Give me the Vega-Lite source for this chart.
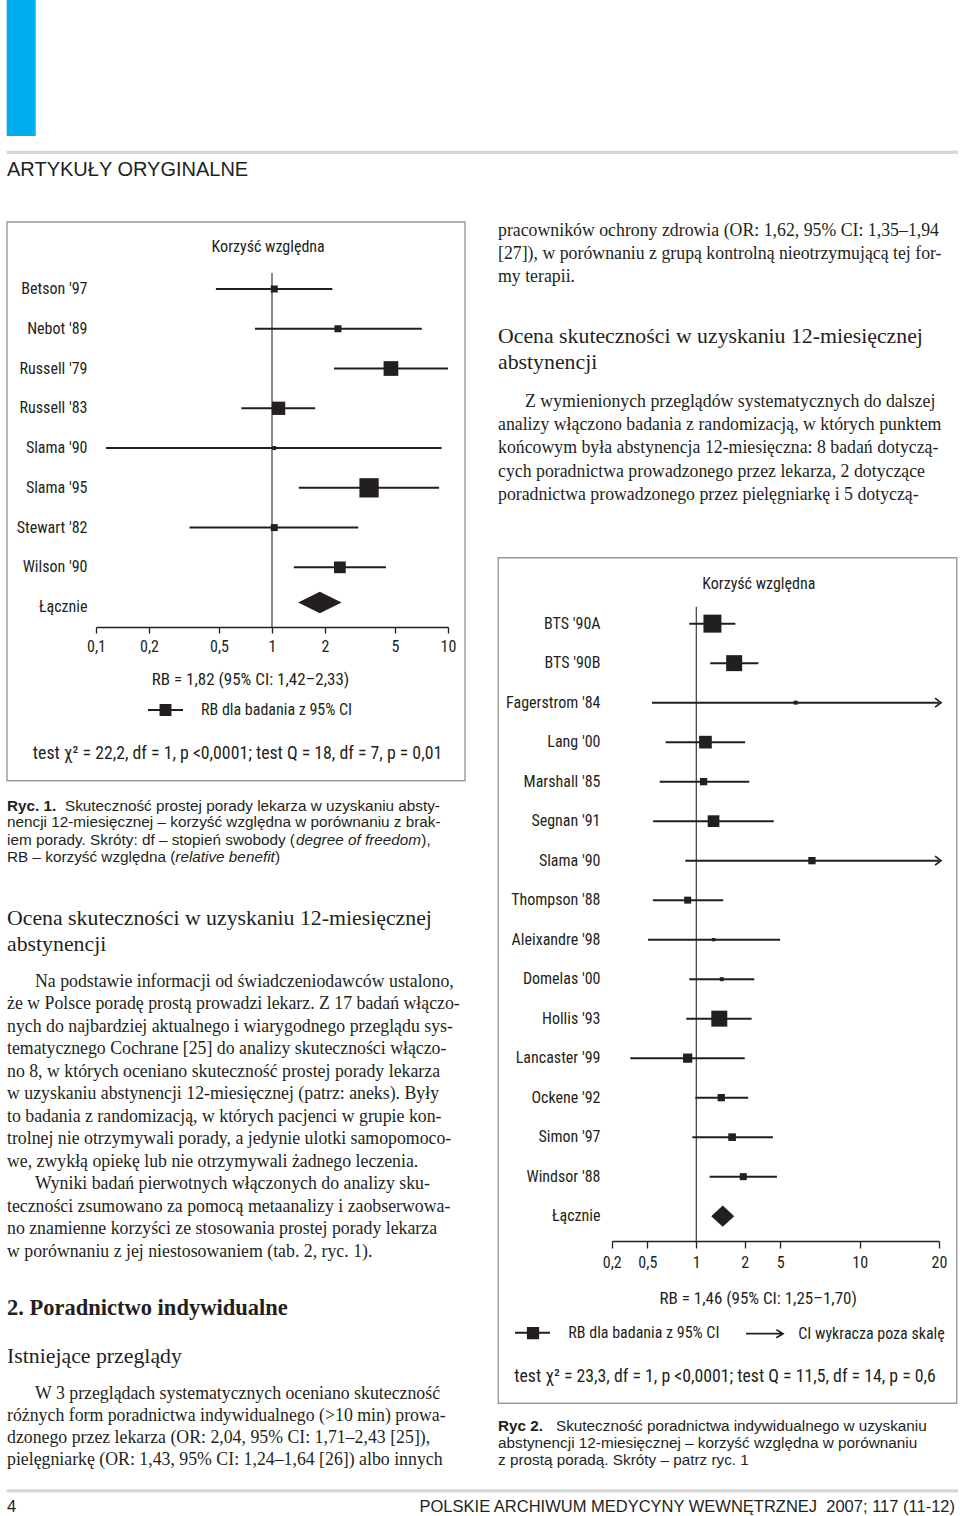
{
  "$schema": "https://vega.github.io/schema/vega-lite/v6.json",
  "width": 960,
  "height": 1516,
  "padding": 0,
  "autosize": {"type": "none"},
  "background": "#ffffff",
  "config": {
    "view": {"stroke": null},
    "legend": {"padding": 0},
    "axis": {
      "grid": false, "labelFlush": false, "labelOverlap": false, "labelLimit": 300,
      "labelFont": "Roboto Condensed, Liberation Sans Narrow, DejaVu Sans Condensed, sans-serif", "labelFontSize": 16, "labelColor": "#231f20",
      "titleFont": "Roboto Condensed, Liberation Sans Narrow, DejaVu Sans Condensed, sans-serif", "titleFontSize": 16, "titleFontWeight": "normal", "titleColor": "#231f20",
      "titleAlign": "center", "titleBaseline": "middle",
      "domainColor": "#231f20", "domainWidth": 1.3, "tickColor": "#231f20", "tickWidth": 1.3
    }
  },
  "datasets": {
    "fig1": [
      {"study": "Betson '97", "rb": 1.03, "lo": 0.48, "hi": 2.2, "w": 4.6},
      {"study": "Nebot '89", "rb": 2.37, "lo": 0.8, "hi": 7.1, "w": 4.6},
      {"study": "Russell '79", "rb": 4.74, "lo": 2.25, "hi": 10, "w": 20.3},
      {"study": "Russell '83", "rb": 1.09, "lo": 0.67, "hi": 1.76, "w": 16.6},
      {"study": "Slama '90", "rb": 1.03, "lo": 0.114, "hi": 9.2, "w": 1.5},
      {"study": "Slama '95", "rb": 3.56, "lo": 1.42, "hi": 8.9, "w": 34.9},
      {"study": "Stewart '82", "rb": 1.03, "lo": 0.34, "hi": 3.09, "w": 4.6},
      {"study": "Wilson '90", "rb": 2.43, "lo": 1.33, "hi": 4.44, "w": 12.9},
      {"study": "Łącznie", "rb": 1.87, "lo": 1.41, "hi": 2.49, "pooled": true}
    ],
    "fig2": [
      {"study": "BTS '90A", "rb": 1.26, "lo": 0.906, "hi": 1.75, "w": 20.5},
      {"study": "BTS '90B", "rb": 1.72, "lo": 1.22, "hi": 2.84, "w": 16.2},
      {"study": "Fagerstrom '84", "rb": 5.72, "lo": 0.534, "hi": 20, "w": 1.0, "cut": true},
      {"study": "Lang '00", "rb": 1.14, "lo": 0.648, "hi": 2.02, "w": 10.2},
      {"study": "Marshall '85", "rb": 1.11, "lo": 0.596, "hi": 2.25, "w": 3.4},
      {"study": "Segnan '91", "rb": 1.28, "lo": 0.543, "hi": 4.22, "w": 8.7},
      {"study": "Slama '90", "rb": 6.59, "lo": 0.856, "hi": 20, "w": 3.4, "cut": true},
      {"study": "Thompson '88", "rb": 0.885, "lo": 0.541, "hi": 1.47, "w": 3.1},
      {"study": "Aleixandre '98", "rb": 1.28, "lo": 0.505, "hi": 4.98, "w": 0.7},
      {"study": "Domelas '00", "rb": 1.44, "lo": 0.906, "hi": 2.56, "w": 1.0},
      {"study": "Hollis '93", "rb": 1.39, "lo": 0.868, "hi": 2.39, "w": 16.2},
      {"study": "Lancaster '99", "rb": 0.885, "lo": 0.323, "hi": 2.0, "w": 5.4},
      {"study": "Ockene '92", "rb": 1.43, "lo": 0.986, "hi": 2.19, "w": 3.4},
      {"study": "Simon '97", "rb": 1.67, "lo": 0.945, "hi": 4.14, "w": 3.7},
      {"study": "Windsor '88", "rb": 1.96, "lo": 1.21, "hi": 4.59, "w": 3.1},
      {"study": "Łącznie", "rb": 1.46, "lo": 1.23, "hi": 1.72, "pooled": true}
    ],
    "txt": [
      {"blk": "hdr", "col": "L", "ln": 1, "t": "ARTYKUŁY ORYGINALNE"},
      {"blk": "cap1b", "col": "L", "ln": 1, "t": "Ryc. 1."},
      {"blk": "cap1a", "col": "L", "ln": 1, "t": "Skuteczność prostej porady lekarza w uzyskaniu absty-"},
      {"blk": "cap1", "col": "L", "ln": 2, "t": "nencji 12-miesięcznej – korzyść względna w porównaniu z brak-"},
      {"blk": "cap1", "col": "L", "ln": 3, "t": "iem porady. Skróty: df – stopień swobody ("},
      {"blk": "cap1i", "col": "L", "ln": 3, "t": "degree of freedom"},
      {"blk": "cap1c", "col": "L", "ln": 3, "t": "),"},
      {"blk": "cap1", "col": "L", "ln": 4, "t": "RB – korzyść względna ("},
      {"blk": "cap1i", "col": "L", "ln": 4, "t": "relative benefit"},
      {"blk": "cap1c", "col": "L", "ln": 4, "t": ")"},
      {"blk": "cap2b", "col": "R", "ln": 1, "t": "Ryc 2."},
      {"blk": "cap2a", "col": "R", "ln": 1, "t": "Skuteczność poradnictwa indywidualnego w uzyskaniu"},
      {"blk": "cap2", "col": "R", "ln": 2, "t": "abstynencji 12-miesięcznej – korzyść względna w porównaniu"},
      {"blk": "cap2", "col": "R", "ln": 3, "t": "z prostą poradą. Skróty – patrz ryc. 1"},
      {"blk": "hl", "col": "L", "ln": 1, "t": "Ocena skuteczności w uzyskaniu 12-miesięcznej"},
      {"blk": "hl", "col": "L", "ln": 2, "t": "abstynencji"},
      {"blk": "bl", "col": "L", "ln": 1, "t": "Na podstawie informacji od świadczeniodawców ustalono,"},
      {"blk": "bl", "col": "L", "ln": 2, "t": "że w Polsce poradę prostą prowadzi lekarz. Z 17 badań włączo-"},
      {"blk": "bl", "col": "L", "ln": 3, "t": "nych do najbardziej aktualnego i wiarygodnego przeglądu sys-"},
      {"blk": "bl", "col": "L", "ln": 4, "t": "tematycznego Cochrane [25] do analizy skuteczności włączo-"},
      {"blk": "bl", "col": "L", "ln": 5, "t": "no 8, w których oceniano skuteczność prostej porady lekarza"},
      {"blk": "bl", "col": "L", "ln": 6, "t": "w uzyskaniu abstynencji 12-miesięcznej (patrz: aneks). Były"},
      {"blk": "bl", "col": "L", "ln": 7, "t": "to badania z randomizacją, w których pacjenci w grupie kon-"},
      {"blk": "bl", "col": "L", "ln": 8, "t": "trolnej nie otrzymywali porady, a jedynie ulotki samopomoco-"},
      {"blk": "bl", "col": "L", "ln": 9, "t": "we, zwykłą opiekę lub nie otrzymywali żadnego leczenia."},
      {"blk": "bl", "col": "L", "ln": 10, "t": "Wyniki badań pierwotnych włączonych do analizy sku-"},
      {"blk": "bl", "col": "L", "ln": 11, "t": "teczności zsumowano za pomocą metaanalizy i zaobserwowa-"},
      {"blk": "bl", "col": "L", "ln": 12, "t": "no znamienne korzyści ze stosowania prostej porady lekarza"},
      {"blk": "bl", "col": "L", "ln": 13, "t": "w porównaniu z jej niestosowaniem (tab. 2, ryc. 1)."},
      {"blk": "h2", "col": "L", "ln": 1, "t": "2. Poradnictwo indywidualne"},
      {"blk": "h3", "col": "L", "ln": 1, "t": "Istniejące przeglądy"},
      {"blk": "bl2", "col": "L", "ln": 1, "t": "W 3 przeglądach systematycznych oceniano skuteczność"},
      {"blk": "bl2", "col": "L", "ln": 2, "t": "różnych form poradnictwa indywidualnego (>10 min) prowa-"},
      {"blk": "bl2", "col": "L", "ln": 3, "t": "dzonego przez lekarza (OR: 2,04, 95% CI: 1,71–2,43 [25]),"},
      {"blk": "bl2", "col": "L", "ln": 4, "t": "pielęgniarkę (OR: 1,43, 95% CI: 1,24–1,64 [26]) albo innych"},
      {"blk": "br1", "col": "R", "ln": 1, "t": "pracowników ochrony zdrowia (OR: 1,62, 95% CI: 1,35–1,94"},
      {"blk": "br1", "col": "R", "ln": 2, "t": "[27]), w porównaniu z grupą kontrolną nieotrzymującą tej for-"},
      {"blk": "br1", "col": "R", "ln": 3, "t": "my terapii."},
      {"blk": "hr", "col": "R", "ln": 1, "t": "Ocena skuteczności w uzyskaniu 12-miesięcznej"},
      {"blk": "hr", "col": "R", "ln": 2, "t": "abstynencji"},
      {"blk": "br2", "col": "R", "ln": 1, "t": "Z wymienionych przeglądów systematycznych do dalszej"},
      {"blk": "br2", "col": "R", "ln": 2, "t": "analizy włączono badania z randomizacją, w których punktem"},
      {"blk": "br2", "col": "R", "ln": 3, "t": "końcowym była abstynencja 12-miesięczna: 8 badań dotyczą-"},
      {"blk": "br2", "col": "R", "ln": 4, "t": "cych poradnictwa prowadzonego przez lekarza, 2 dotyczące"},
      {"blk": "br2", "col": "R", "ln": 5, "t": "poradnictwa prowadzonego przez pielęgniarkę i 5 dotyczą-"},
      {"blk": "foot", "col": "L", "ln": 1, "t": "4"},
      {"blk": "foot", "col": "R", "ln": 1, "t": "POLSKIE ARCHIWUM MEDYCYNY WEWNĘTRZNEJ\u00a0 2007; 117 (11-12)"}
    ]
  },
  "layer": [
    {
      "data": {"values": [{"part": "tab"}]},
      "mark": {"type": "rect", "color": "#00aeef"},
      "encoding": {
        "x": {"field": "part", "type": "nominal", "scale": {"type": "band", "domain": ["tab"], "range": [6.7, 35.7], "paddingInner": 0, "paddingOuter": 0}, "axis": null},
        "y": {"field": "part", "type": "nominal", "scale": {"type": "band", "domain": ["tab"], "range": [0, 136], "paddingInner": 0, "paddingOuter": 0}, "axis": null}
      }
    },
    {
      "data": {"values": [{"sep": "header", "zone": "page"}, {"sep": "footer", "zone": "page"}]},
      "mark": {"type": "rect", "color": "#d7d7d7"},
      "encoding": {
        "x": {"field": "zone", "type": "nominal", "scale": {"type": "band", "domain": ["page"], "range": [6.7, 958], "paddingInner": 0, "paddingOuter": 0}, "axis": null},
        "y": {"field": "sep", "type": "nominal", "scale": {"type": "band", "domain": ["header", "footer"], "range": [150.7, 1492.5], "paddingInner": 0.9976, "paddingOuter": 0}, "axis": null}
      }
    },
    {
      "data": {"values": [{"fig": "Ryc. 1"}]},
      "mark": {"type": "rect", "fill": "transparent", "stroke": "#9a9a9a", "strokeWidth": 1.4},
      "encoding": {
        "x": {"field": "fig", "type": "nominal", "scale": {"type": "band", "domain": ["Ryc. 1"], "range": [7, 465], "paddingInner": 0, "paddingOuter": 0}, "axis": null},
        "y": {"field": "fig", "type": "nominal", "scale": {"type": "band", "domain": ["Ryc. 1"], "range": [222, 780.7], "paddingInner": 0, "paddingOuter": 0}, "axis": null}
      }
    },
    {
      "data": {"values": [{"fig": "Ryc. 2"}]},
      "mark": {"type": "rect", "fill": "transparent", "stroke": "#9a9a9a", "strokeWidth": 1.4},
      "encoding": {
        "x": {"field": "fig", "type": "nominal", "scale": {"type": "band", "domain": ["Ryc. 2"], "range": [498.3, 956.7], "paddingInner": 0, "paddingOuter": 0}, "axis": null},
        "y": {"field": "fig", "type": "nominal", "scale": {"type": "band", "domain": ["Ryc. 2"], "range": [557.7, 1403.3], "paddingInner": 0, "paddingOuter": 0}, "axis": null}
      }
    },
    {
      "data": {"name": "fig1"},
      "encoding": {
        "y": {
          "field": "study", "type": "nominal", "sort": null,
          "scale": {"type": "band", "domain": ["Betson '97", "Nebot '89", "Russell '79", "Russell '83", "Slama '90", "Slama '95", "Stewart '82", "Wilson '90", "Łącznie"], "range": [269.1, 627.0], "paddingInner": 0, "paddingOuter": 0},
          "axis": {"orient": "left", "offset": -87, "domain": false, "ticks": false, "labelPadding": 0, "labelAlign": "right", "labelBaseline": "middle", "title": "Korzyść względna", "titleAngle": 0, "titleX": 180.7, "titleY": 246}
        }
      },
      "layer": [
        {
          "data": {"values": [{"rb": 1}]},
          "mark": {"type": "rule", "color": "#3a3a3a", "strokeWidth": 1.2, "yOffset": -16, "y2Offset": 20},
          "encoding": {
            "x": {"field": "rb", "type": "quantitative", "scale": {"type": "log", "domain": [0.1, 10], "range": [96, 448], "nice": false},
              "axis": {"orient": "bottom", "offset": -889, "values": [0.1, 0.2, 0.5, 1, 2, 5, 10], "labelExpr": "replace(format(datum.value, '~g'), '.', ',')", "tickSize": 6, "labelPadding": 5, "title": "RB = 1,82 (95% CI: 1,42–2,33)", "titleX": 250, "titleY": 52.3, "titleFontSize": 17}},
            "y": {"datum": "Betson '97", "type": "nominal",
              "axis": {"orient": "left", "offset": -87, "domain": false, "ticks": false, "labelPadding": 0, "labelAlign": "right", "labelBaseline": "middle", "title": "Korzyść względna", "titleAngle": 0, "titleX": 180.7, "titleY": 246}},
            "y2": {"datum": "Łącznie"}
          }
        },
        {
          "transform": [{"filter": "!datum.pooled"}],
          "mark": {"type": "rule", "color": "#231f20", "strokeWidth": 2},
          "encoding": {
            "x": {"field": "lo", "type": "quantitative", "scale": {"type": "log", "domain": [0.1, 10], "range": [96, 448], "nice": false},
              "axis": {"orient": "bottom", "offset": -889, "values": [0.1, 0.2, 0.5, 1, 2, 5, 10], "labelExpr": "replace(format(datum.value, '~g'), '.', ',')", "tickSize": 6, "labelPadding": 5, "title": "RB = 1,82 (95% CI: 1,42–2,33)", "titleX": 250, "titleY": 52.3, "titleFontSize": 17}},
            "x2": {"field": "hi"}
          }
        },
        {
          "transform": [{"filter": "!datum.pooled"}],
          "mark": {"type": "point", "shape": "square", "filled": true, "opacity": 1},
          "encoding": {
            "x": {"field": "rb", "type": "quantitative", "scale": {"type": "log", "domain": [0.1, 10], "range": [96, 448], "nice": false},
              "axis": {"orient": "bottom", "offset": -889, "values": [0.1, 0.2, 0.5, 1, 2, 5, 10], "labelExpr": "replace(format(datum.value, '~g'), '.', ',')", "tickSize": 6, "labelPadding": 5, "title": "RB = 1,82 (95% CI: 1,42–2,33)", "titleX": 250, "titleY": 52.3, "titleFontSize": 17}},
            "size": {"field": "w", "type": "quantitative", "scale": {"type": "linear", "domain": [0, 100], "range": [0, 1065]}, "legend": null},
            "color": {"datum": "RB dla badania z 95% CI", "type": "nominal", "scale": {"range": ["#231f20"]},
              "legend": {"orient": "none", "legendX": 148, "legendY": 692.5, "title": null, "symbolType": "M-1,-0.06H1V0.06H-1Z M-0.34,-0.34H0.34V0.34H-0.34Z", "symbolSize": 1225, "symbolStrokeWidth": 0, "symbolFillColor": "#231f20", "symbolOpacity": 1, "labelFont": "Roboto Condensed, Liberation Sans Narrow, DejaVu Sans Condensed, sans-serif", "labelFontSize": 16, "labelColor": "#231f20", "labelOffset": 18, "labelLimit": 400, "padding": 0}}
          }
        },
        {
          "transform": [{"filter": "datum.pooled"}],
          "mark": {"type": "point", "shape": "M-1,0L0,-0.5L1,0L0,0.5Z", "filled": true, "opacity": 1, "color": "#231f20", "size": 1884, "yOffset": -4.6},
          "encoding": {
            "x": {"field": "rb", "type": "quantitative", "scale": {"type": "log", "domain": [0.1, 10], "range": [96, 448], "nice": false},
              "axis": {"orient": "bottom", "offset": -889, "values": [0.1, 0.2, 0.5, 1, 2, 5, 10], "labelExpr": "replace(format(datum.value, '~g'), '.', ',')", "tickSize": 6, "labelPadding": 5, "title": "RB = 1,82 (95% CI: 1,42–2,33)", "titleX": 250, "titleY": 52.3, "titleFontSize": 17}}
          }
        }
      ]
    },
    {
      "data": {"name": "fig2"},
      "encoding": {
        "y": {
          "field": "study", "type": "nominal", "sort": null,
          "scale": {"type": "band", "domain": ["BTS '90A", "BTS '90B", "Fagerstrom '84", "Lang '00", "Marshall '85", "Segnan '91", "Slama '90", "Thompson '88", "Aleixandre '98", "Domelas '00", "Hollis '93", "Lancaster '99", "Ockene '92", "Simon '97", "Windsor '88", "Łącznie"], "range": [603.9, 1235.9], "paddingInner": 0, "paddingOuter": 0},
          "axis": {"orient": "left", "offset": -600, "domain": false, "ticks": false, "labelPadding": 0, "labelAlign": "right", "labelBaseline": "middle", "title": "Korzyść względna", "titleAngle": 0, "titleX": 158.3, "titleY": 583.3}
        }
      },
      "layer": [
        {
          "data": {"values": [{"rb": 1}]},
          "mark": {"type": "rule", "color": "#3a3a3a", "strokeWidth": 1.2, "yOffset": -17, "y2Offset": 25},
          "encoding": {
            "x": {"field": "rb", "type": "quantitative", "scale": {"type": "log", "domain": [0.2, 0.5, 1, 2, 5, 10, 20], "range": [611.7, 647.3, 696.3, 744.7, 780.3, 859.7, 939], "nice": false},
              "axis": {"orient": "bottom", "offset": -275, "values": [0.2, 0.5, 1, 2, 5, 10, 20], "labelExpr": "replace(format(datum.value, '~g'), '.', ',')", "tickSize": 7, "labelPadding": 6, "title": "RB = 1,46 (95% CI: 1,25–1,70)", "titleX": 757.7, "titleY": 57.3, "titleFontSize": 17}},
            "y": {"datum": "BTS '90A", "type": "nominal",
              "axis": {"orient": "left", "offset": -600, "domain": false, "ticks": false, "labelPadding": 0, "labelAlign": "right", "labelBaseline": "middle", "title": "Korzyść względna", "titleAngle": 0, "titleX": 158.3, "titleY": 583.3}},
            "y2": {"datum": "Łącznie"}
          }
        },
        {
          "transform": [{"filter": "!datum.pooled"}],
          "mark": {"type": "rule", "color": "#231f20", "strokeWidth": 2},
          "encoding": {
            "x": {"field": "lo", "type": "quantitative", "scale": {"type": "log", "domain": [0.2, 0.5, 1, 2, 5, 10, 20], "range": [611.7, 647.3, 696.3, 744.7, 780.3, 859.7, 939], "nice": false},
              "axis": {"orient": "bottom", "offset": -275, "values": [0.2, 0.5, 1, 2, 5, 10, 20], "labelExpr": "replace(format(datum.value, '~g'), '.', ',')", "tickSize": 7, "labelPadding": 6, "title": "RB = 1,46 (95% CI: 1,25–1,70)", "titleX": 757.7, "titleY": 57.3, "titleFontSize": 17}},
            "x2": {"field": "hi"}
          }
        },
        {
          "transform": [{"filter": "!datum.pooled"}],
          "mark": {"type": "point", "shape": "square", "filled": true, "opacity": 1},
          "encoding": {
            "x": {"field": "rb", "type": "quantitative", "scale": {"type": "log", "domain": [0.2, 0.5, 1, 2, 5, 10, 20], "range": [611.7, 647.3, 696.3, 744.7, 780.3, 859.7, 939], "nice": false},
              "axis": {"orient": "bottom", "offset": -275, "values": [0.2, 0.5, 1, 2, 5, 10, 20], "labelExpr": "replace(format(datum.value, '~g'), '.', ',')", "tickSize": 7, "labelPadding": 6, "title": "RB = 1,46 (95% CI: 1,25–1,70)", "titleX": 757.7, "titleY": 57.3, "titleFontSize": 17}},
            "size": {"field": "w", "type": "quantitative", "scale": {"type": "linear", "domain": [0, 100], "range": [0, 1579]}, "legend": null},
            "color": {"datum": "RB dla badania z 95% CI", "type": "nominal", "scale": {"range": ["#231f20"]},
              "legend": {"orient": "none", "legendX": 515, "legendY": 1315.2, "title": null, "symbolType": "M-1,-0.06H1V0.06H-1Z M-0.32,-0.32H0.38V0.38H-0.32Z", "symbolSize": 1225, "symbolStrokeWidth": 0, "symbolFillColor": "#231f20", "symbolOpacity": 1, "labelFont": "Roboto Condensed, Liberation Sans Narrow, DejaVu Sans Condensed, sans-serif", "labelFontSize": 16, "labelColor": "#231f20", "labelOffset": 18.3, "labelLimit": 400, "padding": 0}}
          }
        },
        {
          "transform": [{"filter": "datum.cut"}],
          "mark": {"type": "point", "shape": "M-1,-0.75L0,0L-1,0.75", "filled": false, "strokeWidth": 1.7, "size": 144, "opacity": 1, "xOffset": 2},
          "encoding": {
            "x": {"field": "hi", "type": "quantitative", "scale": {"type": "log", "domain": [0.2, 0.5, 1, 2, 5, 10, 20], "range": [611.7, 647.3, 696.3, 744.7, 780.3, 859.7, 939], "nice": false},
              "axis": {"orient": "bottom", "offset": -275, "values": [0.2, 0.5, 1, 2, 5, 10, 20], "labelExpr": "replace(format(datum.value, '~g'), '.', ',')", "tickSize": 7, "labelPadding": 6, "title": "RB = 1,46 (95% CI: 1,25–1,70)", "titleX": 757.7, "titleY": 57.3, "titleFontSize": 17}},
            "color": {"datum": "CI wykracza poza skalę", "type": "nominal", "scale": {"range": ["#231f20"]},
              "legend": {"orient": "none", "legendX": 745, "legendY": 1314.2, "title": null, "symbolType": "M-1,0H1M0.64,-0.22L1,0L0.64,0.22", "symbolSize": 1369, "symbolStrokeWidth": 1.7, "symbolStrokeColor": "#231f20", "symbolOpacity": 1, "labelFont": "Roboto Condensed, Liberation Sans Narrow, DejaVu Sans Condensed, sans-serif", "labelFontSize": 16, "labelColor": "#231f20", "labelOffset": 14.3, "labelLimit": 400, "padding": 0}}
          }
        },
        {
          "transform": [{"filter": "datum.pooled"}],
          "mark": {"type": "point", "shape": "M-1,0L0,-0.92L1,0L0,0.92Z", "filled": true, "opacity": 1, "color": "#231f20", "size": 529},
          "encoding": {
            "x": {"field": "rb", "type": "quantitative", "scale": {"type": "log", "domain": [0.2, 0.5, 1, 2, 5, 10, 20], "range": [611.7, 647.3, 696.3, 744.7, 780.3, 859.7, 939], "nice": false},
              "axis": {"orient": "bottom", "offset": -275, "values": [0.2, 0.5, 1, 2, 5, 10, 20], "labelExpr": "replace(format(datum.value, '~g'), '.', ',')", "tickSize": 7, "labelPadding": 6, "title": "RB = 1,46 (95% CI: 1,25–1,70)", "titleX": 757.7, "titleY": 57.3, "titleFontSize": 17}}
          }
        }
      ],
      "resolve": {"scale": {"color": "independent"}, "legend": {"color": "independent"}}
    },
    {
      "data": {"values": [
        {"fig": "Ryc. 1", "t": "test χ² = 22,2, df = 1, p <0,0001; test Q = 18, df = 7, p = 0,01"},
        {"fig": "Ryc. 2", "t": "test χ² = 23,3, df = 1, p <0,0001; test Q = 11,5, df = 14, p = 0,6"}
      ]},
      "mark": {"type": "text", "align": "center", "baseline": "middle", "font": "Roboto Condensed, Liberation Sans Narrow, DejaVu Sans Condensed, sans-serif", "fontSize": 17.8, "color": "#231f20"},
      "encoding": {
        "x": {"field": "fig", "type": "nominal", "scale": {"type": "point", "domain": ["Ryc. 1", "Ryc. 2"], "range": [237.5, 725], "padding": 0}, "axis": null},
        "y": {"field": "fig", "type": "nominal", "scale": {"type": "point", "domain": ["Ryc. 1", "Ryc. 2"], "range": [754, 1376.7], "padding": 0}, "axis": null},
        "text": {"field": "t"}
      }
    },
    {
      "data": {"name": "txt"},
      "transform": [{"filter": "datum.blk === 'hdr'"}],
      "mark": {"type": "text", "align": "left", "baseline": "middle", "font": "Liberation Sans, Arial, sans-serif", "fontSize": 20, "color": "#231f20"},
      "encoding": {
        "x": {"field": "col", "type": "nominal", "scale": {"type": "point", "domain": ["L", "R"], "range": [7, 498], "padding": 0}, "axis": null},
        "y": {"field": "ln", "type": "quantitative", "scale": {"domain": [1, 2], "range": [170, 190], "nice": false, "zero": false}, "axis": null},
        "text": {"field": "t"}
      }
    },
    {
      "data": {"name": "txt"},
      "transform": [{"filter": "datum.blk === 'cap1b' || datum.blk === 'cap2b'"}],
      "mark": {"type": "text", "align": "left", "baseline": "middle", "font": "Liberation Sans, Arial, sans-serif", "fontSize": 15.3, "fontWeight": "bold", "color": "#231f20"},
      "encoding": {
        "x": {"field": "col", "type": "nominal", "scale": {"type": "point", "domain": ["L", "R"], "range": [7, 498], "padding": 0}, "axis": null},
        "y": {"field": "col", "type": "nominal", "scale": {"type": "point", "domain": ["L", "R"], "range": [805.7, 1425.7], "padding": 0}, "axis": null},
        "text": {"field": "t"}
      }
    },
    {
      "data": {"name": "txt"},
      "transform": [{"filter": "datum.blk === 'cap1a' || datum.blk === 'cap2a'"}],
      "mark": {"type": "text", "align": "left", "baseline": "middle", "font": "Liberation Sans, Arial, sans-serif", "fontSize": 15.3, "color": "#231f20", "dx": 58},
      "encoding": {
        "x": {"field": "col", "type": "nominal", "scale": {"type": "point", "domain": ["L", "R"], "range": [7, 498], "padding": 0}, "axis": null},
        "y": {"field": "col", "type": "nominal", "scale": {"type": "point", "domain": ["L", "R"], "range": [805.7, 1425.7], "padding": 0}, "axis": null},
        "text": {"field": "t"}
      }
    },
    {
      "data": {"name": "txt"},
      "transform": [{"filter": "datum.blk === 'cap1'"}],
      "mark": {"type": "text", "align": "left", "baseline": "middle", "font": "Liberation Sans, Arial, sans-serif", "fontSize": 15.3, "color": "#231f20"},
      "encoding": {
        "x": {"field": "col", "type": "nominal", "scale": {"type": "point", "domain": ["L", "R"], "range": [7, 498], "padding": 0}, "axis": null},
        "y": {"field": "ln", "type": "quantitative", "scale": {"domain": [2, 4], "range": [822.3, 856.7], "nice": false, "zero": false}, "axis": null},
        "text": {"field": "t"}
      }
    },
    {
      "data": {"name": "txt"},
      "transform": [{"filter": "datum.blk === 'cap1i' && datum.ln === 3"}],
      "mark": {"type": "text", "align": "left", "baseline": "middle", "font": "Liberation Sans, Arial, sans-serif", "fontSize": 15.3, "fontStyle": "italic", "color": "#231f20", "dx": 289.1},
      "encoding": {
        "x": {"field": "col", "type": "nominal", "scale": {"type": "point", "domain": ["L", "R"], "range": [7, 498], "padding": 0}, "axis": null},
        "y": {"field": "ln", "type": "quantitative", "scale": {"domain": [2, 4], "range": [822.3, 856.7], "nice": false, "zero": false}, "axis": null},
        "text": {"field": "t"}
      }
    },
    {
      "data": {"name": "txt"},
      "transform": [{"filter": "datum.blk === 'cap1c' && datum.ln === 3"}],
      "mark": {"type": "text", "align": "left", "baseline": "middle", "font": "Liberation Sans, Arial, sans-serif", "fontSize": 15.3, "color": "#231f20", "dx": 414.3},
      "encoding": {
        "x": {"field": "col", "type": "nominal", "scale": {"type": "point", "domain": ["L", "R"], "range": [7, 498], "padding": 0}, "axis": null},
        "y": {"field": "ln", "type": "quantitative", "scale": {"domain": [2, 4], "range": [822.3, 856.7], "nice": false, "zero": false}, "axis": null},
        "text": {"field": "t"}
      }
    },
    {
      "data": {"name": "txt"},
      "transform": [{"filter": "datum.blk === 'cap1i' && datum.ln === 4"}],
      "mark": {"type": "text", "align": "left", "baseline": "middle", "font": "Liberation Sans, Arial, sans-serif", "fontSize": 15.3, "fontStyle": "italic", "color": "#231f20", "dx": 168.3},
      "encoding": {
        "x": {"field": "col", "type": "nominal", "scale": {"type": "point", "domain": ["L", "R"], "range": [7, 498], "padding": 0}, "axis": null},
        "y": {"field": "ln", "type": "quantitative", "scale": {"domain": [2, 4], "range": [822.3, 856.7], "nice": false, "zero": false}, "axis": null},
        "text": {"field": "t"}
      }
    },
    {
      "data": {"name": "txt"},
      "transform": [{"filter": "datum.blk === 'cap1c' && datum.ln === 4"}],
      "mark": {"type": "text", "align": "left", "baseline": "middle", "font": "Liberation Sans, Arial, sans-serif", "fontSize": 15.3, "color": "#231f20", "dx": 268},
      "encoding": {
        "x": {"field": "col", "type": "nominal", "scale": {"type": "point", "domain": ["L", "R"], "range": [7, 498], "padding": 0}, "axis": null},
        "y": {"field": "ln", "type": "quantitative", "scale": {"domain": [2, 4], "range": [822.3, 856.7], "nice": false, "zero": false}, "axis": null},
        "text": {"field": "t"}
      }
    },
    {
      "data": {"name": "txt"},
      "transform": [{"filter": "datum.blk === 'cap2'"}],
      "mark": {"type": "text", "align": "left", "baseline": "middle", "font": "Liberation Sans, Arial, sans-serif", "fontSize": 15.3, "color": "#231f20"},
      "encoding": {
        "x": {"field": "col", "type": "nominal", "scale": {"type": "point", "domain": ["L", "R"], "range": [7, 498], "padding": 0}, "axis": null},
        "y": {"field": "ln", "type": "quantitative", "scale": {"domain": [2, 3], "range": [1443, 1460], "nice": false, "zero": false}, "axis": null},
        "text": {"field": "t"}
      }
    },
    {
      "data": {"name": "txt"},
      "transform": [{"filter": "datum.blk === 'hl'"}],
      "mark": {"type": "text", "align": "left", "baseline": "middle", "font": "Liberation Serif, Times New Roman, serif", "fontSize": 21.8, "color": "#231f20"},
      "encoding": {
        "x": {"field": "col", "type": "nominal", "scale": {"type": "point", "domain": ["L", "R"], "range": [7, 498], "padding": 0}, "axis": null},
        "y": {"field": "ln", "type": "quantitative", "scale": {"domain": [1, 2], "range": [918.3, 944.3], "nice": false, "zero": false}, "axis": null},
        "text": {"field": "t"}
      }
    },
    {
      "data": {"name": "txt"},
      "transform": [{"filter": "datum.blk === 'hr'"}],
      "mark": {"type": "text", "align": "left", "baseline": "middle", "font": "Liberation Serif, Times New Roman, serif", "fontSize": 21.8, "color": "#231f20"},
      "encoding": {
        "x": {"field": "col", "type": "nominal", "scale": {"type": "point", "domain": ["L", "R"], "range": [7, 498], "padding": 0}, "axis": null},
        "y": {"field": "ln", "type": "quantitative", "scale": {"domain": [1, 2], "range": [336, 361.7], "nice": false, "zero": false}, "axis": null},
        "text": {"field": "t"}
      }
    },
    {
      "data": {"name": "txt"},
      "transform": [{"filter": "datum.blk === 'bl' && datum.ln !== 1 && datum.ln !== 10"}],
      "mark": {"type": "text", "align": "left", "baseline": "middle", "font": "Liberation Serif, Times New Roman, serif", "fontSize": 17.8, "color": "#231f20"},
      "encoding": {
        "x": {"field": "col", "type": "nominal", "scale": {"type": "point", "domain": ["L", "R"], "range": [7, 498], "padding": 0}, "axis": null},
        "y": {"field": "ln", "type": "quantitative", "scale": {"domain": [1, 13], "range": [981.7, 1251.7], "nice": false, "zero": false}, "axis": null},
        "text": {"field": "t"}
      }
    },
    {
      "data": {"name": "txt"},
      "transform": [{"filter": "datum.blk === 'bl' && (datum.ln === 1 || datum.ln === 10)"}],
      "mark": {"type": "text", "align": "left", "baseline": "middle", "font": "Liberation Serif, Times New Roman, serif", "fontSize": 17.8, "color": "#231f20", "dx": 28},
      "encoding": {
        "x": {"field": "col", "type": "nominal", "scale": {"type": "point", "domain": ["L", "R"], "range": [7, 498], "padding": 0}, "axis": null},
        "y": {"field": "ln", "type": "quantitative", "scale": {"domain": [1, 13], "range": [981.7, 1251.7], "nice": false, "zero": false}, "axis": null},
        "text": {"field": "t"}
      }
    },
    {
      "data": {"name": "txt"},
      "transform": [{"filter": "datum.blk === 'h2'"}],
      "mark": {"type": "text", "align": "left", "baseline": "middle", "font": "Liberation Serif, Times New Roman, serif", "fontSize": 22.5, "fontWeight": "bold", "color": "#231f20"},
      "encoding": {
        "x": {"field": "col", "type": "nominal", "scale": {"type": "point", "domain": ["L", "R"], "range": [7, 498], "padding": 0}, "axis": null},
        "y": {"field": "ln", "type": "quantitative", "scale": {"domain": [1, 2], "range": [1307.7, 1330], "nice": false, "zero": false}, "axis": null},
        "text": {"field": "t"}
      }
    },
    {
      "data": {"name": "txt"},
      "transform": [{"filter": "datum.blk === 'h3'"}],
      "mark": {"type": "text", "align": "left", "baseline": "middle", "font": "Liberation Serif, Times New Roman, serif", "fontSize": 21.8, "color": "#231f20"},
      "encoding": {
        "x": {"field": "col", "type": "nominal", "scale": {"type": "point", "domain": ["L", "R"], "range": [7, 498], "padding": 0}, "axis": null},
        "y": {"field": "ln", "type": "quantitative", "scale": {"domain": [1, 2], "range": [1355.7, 1380], "nice": false, "zero": false}, "axis": null},
        "text": {"field": "t"}
      }
    },
    {
      "data": {"name": "txt"},
      "transform": [{"filter": "datum.blk === 'bl2' && datum.ln !== 1"}],
      "mark": {"type": "text", "align": "left", "baseline": "middle", "font": "Liberation Serif, Times New Roman, serif", "fontSize": 17.8, "color": "#231f20"},
      "encoding": {
        "x": {"field": "col", "type": "nominal", "scale": {"type": "point", "domain": ["L", "R"], "range": [7, 498], "padding": 0}, "axis": null},
        "y": {"field": "ln", "type": "quantitative", "scale": {"domain": [1, 4], "range": [1394, 1460], "nice": false, "zero": false}, "axis": null},
        "text": {"field": "t"}
      }
    },
    {
      "data": {"name": "txt"},
      "transform": [{"filter": "datum.blk === 'bl2' && datum.ln === 1"}],
      "mark": {"type": "text", "align": "left", "baseline": "middle", "font": "Liberation Serif, Times New Roman, serif", "fontSize": 17.8, "color": "#231f20", "dx": 28},
      "encoding": {
        "x": {"field": "col", "type": "nominal", "scale": {"type": "point", "domain": ["L", "R"], "range": [7, 498], "padding": 0}, "axis": null},
        "y": {"field": "ln", "type": "quantitative", "scale": {"domain": [1, 4], "range": [1394, 1460], "nice": false, "zero": false}, "axis": null},
        "text": {"field": "t"}
      }
    },
    {
      "data": {"name": "txt"},
      "transform": [{"filter": "datum.blk === 'br1'"}],
      "mark": {"type": "text", "align": "left", "baseline": "middle", "font": "Liberation Serif, Times New Roman, serif", "fontSize": 17.8, "color": "#231f20"},
      "encoding": {
        "x": {"field": "col", "type": "nominal", "scale": {"type": "point", "domain": ["L", "R"], "range": [7, 498], "padding": 0}, "axis": null},
        "y": {"field": "ln", "type": "quantitative", "scale": {"domain": [1, 3], "range": [230.7, 276.5], "nice": false, "zero": false}, "axis": null},
        "text": {"field": "t"}
      }
    },
    {
      "data": {"name": "txt"},
      "transform": [{"filter": "datum.blk === 'br2' && datum.ln !== 1"}],
      "mark": {"type": "text", "align": "left", "baseline": "middle", "font": "Liberation Serif, Times New Roman, serif", "fontSize": 17.8, "color": "#231f20"},
      "encoding": {
        "x": {"field": "col", "type": "nominal", "scale": {"type": "point", "domain": ["L", "R"], "range": [7, 498], "padding": 0}, "axis": null},
        "y": {"field": "ln", "type": "quantitative", "scale": {"domain": [1, 5], "range": [401.7, 495], "nice": false, "zero": false}, "axis": null},
        "text": {"field": "t"}
      }
    },
    {
      "data": {"name": "txt"},
      "transform": [{"filter": "datum.blk === 'br2' && datum.ln === 1"}],
      "mark": {"type": "text", "align": "left", "baseline": "middle", "font": "Liberation Serif, Times New Roman, serif", "fontSize": 17.8, "color": "#231f20", "dx": 27},
      "encoding": {
        "x": {"field": "col", "type": "nominal", "scale": {"type": "point", "domain": ["L", "R"], "range": [7, 498], "padding": 0}, "axis": null},
        "y": {"field": "ln", "type": "quantitative", "scale": {"domain": [1, 5], "range": [401.7, 495], "nice": false, "zero": false}, "axis": null},
        "text": {"field": "t"}
      }
    },
    {
      "data": {"name": "txt"},
      "transform": [{"filter": "datum.blk === 'foot' && datum.col === 'L'"}],
      "mark": {"type": "text", "align": "left", "baseline": "middle", "font": "Liberation Sans, Arial, sans-serif", "fontSize": 16.5, "color": "#231f20"},
      "encoding": {
        "x": {"field": "col", "type": "nominal", "scale": {"type": "point", "domain": ["L", "R"], "range": [7, 955], "padding": 0}, "axis": null},
        "y": {"field": "ln", "type": "quantitative", "scale": {"domain": [1, 2], "range": [1507, 1527], "nice": false, "zero": false}, "axis": null},
        "text": {"field": "t"}
      }
    },
    {
      "data": {"name": "txt"},
      "transform": [{"filter": "datum.blk === 'foot' && datum.col === 'R'"}],
      "mark": {"type": "text", "align": "right", "baseline": "middle", "font": "Liberation Sans, Arial, sans-serif", "fontSize": 16.5, "color": "#231f20"},
      "encoding": {
        "x": {"field": "col", "type": "nominal", "scale": {"type": "point", "domain": ["L", "R"], "range": [7, 955], "padding": 0}, "axis": null},
        "y": {"field": "ln", "type": "quantitative", "scale": {"domain": [1, 2], "range": [1507, 1527], "nice": false, "zero": false}, "axis": null},
        "text": {"field": "t"}
      }
    }
  ],
  "resolve": {
    "scale": {"x": "independent", "y": "independent", "color": "independent", "size": "independent"},
    "axis": {"x": "independent", "y": "independent"},
    "legend": {"color": "independent", "size": "independent"}
  }
}
